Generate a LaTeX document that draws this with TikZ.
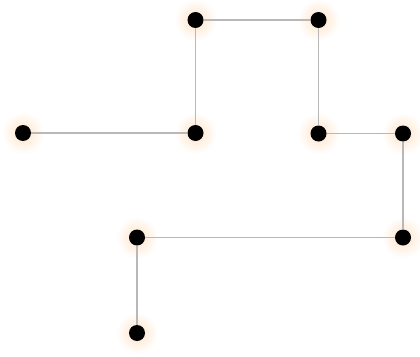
\documentclass[tikz,border=0pt]{standalone}
\tikzset{
  dotnode/.style={circle,fill=black,minimum size=16pt,inner sep=0pt},
  glow/.style={circle,inner color=orange!22,outer color=white,minimum size=42pt,inner sep=0pt},
  wire/.style={draw=black!28,line width=1.4pt}
}
\begin{document}
\begin{tikzpicture}[x=1pt,y=-1pt]
\useasboundingbox[fill=white] (0,0) rectangle (420,356);
\foreach \n/\x/\y in {a/195.5/20,b/318.5/20,c/23/133,d/195.5/133,e/318.5/133.5,f/403/133.5,g/137/237.5,h/403/237.5,i/137/333}{
  \node[glow] at (\x,\y) {};
  \coordinate (p\n) at (\x,\y);
}
\foreach \n in {a,b,c,d,e,f,g,h,i}{
  \node[dotnode] (\n) at (p\n) {};
}
\draw[wire] (a) -- (b);
\draw[wire] (a) -- (d);
\draw[wire] (c) -- (d);
\draw[wire] (b) -- (e);
\draw[wire] (e) -- (f);
\draw[wire] (f) -- (h);
\draw[wire] (h) -- (g);
\draw[wire] (g) -- (i);
\end{tikzpicture}
\end{document}
